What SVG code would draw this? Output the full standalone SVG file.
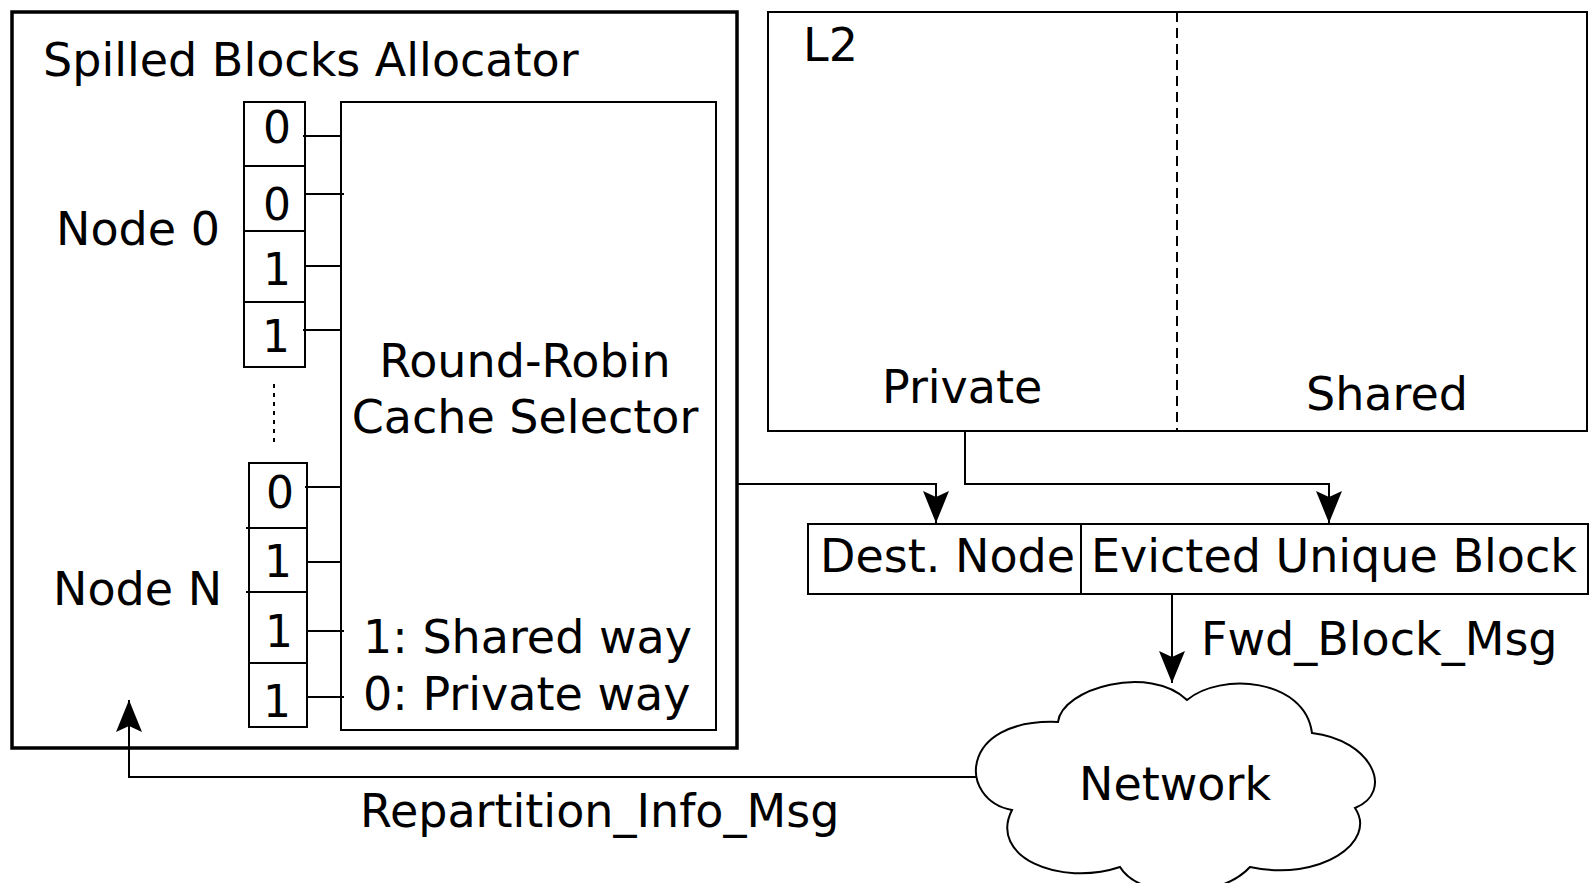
<svg xmlns="http://www.w3.org/2000/svg" width="1591" height="883" viewBox="0 0 1591 883">
  <style>
    text { font-family: "DejaVu Sans", "Liberation Sans", sans-serif; font-size: 46px; fill: #000; }
    .bit { font-size: 44px; text-anchor: middle; }
    .mid { text-anchor: middle; }
    .box { fill: #fff; stroke: #000; stroke-width: 2; }
    .line { fill: none; stroke: #000; stroke-width: 2; }
    .dash { fill: none; stroke: #000; stroke-width: 2; stroke-dasharray: 10 6; }
    .dots { fill: none; stroke: #000; stroke-width: 2; stroke-dasharray: 4 5; }
  </style>
  <defs>
    <marker id="arrow" viewBox="-34 -14 36 28" refX="0" refY="0" markerWidth="36" markerHeight="28" markerUnits="userSpaceOnUse" orient="auto">
      <path d="M0,0 L-32,-13 L-26,0 L-32,13 Z" fill="#000"/>
    </marker>
  </defs>

  <rect width="1591" height="883" fill="#fff"/>

  <!-- Spilled blocks allocator -->
  <g id="allocator">
    <rect x="12" y="12" width="725" height="736" fill="#fff" stroke="#000" stroke-width="3.5"/>
    <text x="43" y="76">Spilled Blocks Allocator</text>
  </g>

  <g id="selector">
    <rect class="box" x="341" y="102" width="375" height="628"/>
    <text class="mid" x="525" y="377">Round-Robin</text>
    <text class="mid" x="525" y="433">Cache Selector</text>
    <text x="363" y="653">1: Shared way</text>
    <text x="363" y="710">0: Private way</text>
  </g>

  <g id="node0">
    <text x="56" y="245">Node 0</text>
    <rect class="box" x="244" y="102" width="61" height="265"/>
    <path class="line" d="M244 166 H305 M244 231 H305 M244 302 H305"/>
    <text class="bit" x="277" y="143">0</text>
    <text class="bit" x="277" y="220">0</text>
    <text class="bit" x="277" y="285">1</text>
    <text class="bit" x="276" y="352">1</text>
  </g>

  <path id="ellipsis" class="dots" d="M274 384 V446"/>

  <g id="nodeN">
    <text x="53" y="605">Node N</text>
    <rect class="box" x="249" y="463" width="58" height="264"/>
    <path class="line" d="M246 528 H307 M246 592 H307 M249 663 H307"/>
    <text class="bit" x="280" y="508">0</text>
    <text class="bit" x="278" y="577">1</text>
    <text class="bit" x="279" y="647">1</text>
    <text class="bit" x="277" y="717">1</text>
  </g>

  <g id="l2">
    <rect class="box" x="768" y="12" width="819" height="419"/>
    <path class="dash" d="M1177 12 V431"/>
    <text x="803" y="61">L2</text>
    <text x="882" y="403">Private</text>
    <text x="1306" y="410">Shared</text>
  </g>

  <g id="message">
    <rect class="box" x="808" y="524" width="780" height="70"/>
    <path class="line" d="M1081 524 V594"/>
    <text x="820" y="572">Dest. Node</text>
    <text x="1091" y="572">Evicted Unique Block</text>
  </g>

  <g id="network">
    <path class="box" d="M1058 722 C1062 688 1150 664 1187 700 C1220 672 1305 678 1312 733 C1372 740 1395 792 1355 808 C1378 842 1320 882 1250 867 C1220 900 1140 900 1120 867 C1060 887 988 857 1012 810 C958 800 958 718 1058 722 Z"/>
    <text x="1079" y="800">Network</text>
  </g>

  <g id="connectors">
    <!-- bit lines into the selector -->
    <path class="line" d="M303 136 H341 M305 194 H344 M305 266 H341 M303 330 H341"/>
    <path class="line" d="M305 487 H341 M307 562 H341 M307 631 H344 M307 697 H344"/>
    <!-- selector to destination node field -->
    <path class="line" d="M736 484 H936 V523" marker-end="url(#arrow)"/>
    <!-- private partition to evicted block field -->
    <path class="line" d="M965 431 V484 H1329 V523" marker-end="url(#arrow)"/>
    <!-- forwarded block into the network -->
    <path class="line" d="M1172 594 V683" marker-end="url(#arrow)"/>
    <text x="1201" y="655">Fwd_Block_Msg</text>
    <!-- repartition info back to the allocator -->
    <path class="line" d="M977 777 H129 V700" marker-end="url(#arrow)"/>
    <text x="360" y="827">Repartition_Info_Msg</text>
  </g>
</svg>
